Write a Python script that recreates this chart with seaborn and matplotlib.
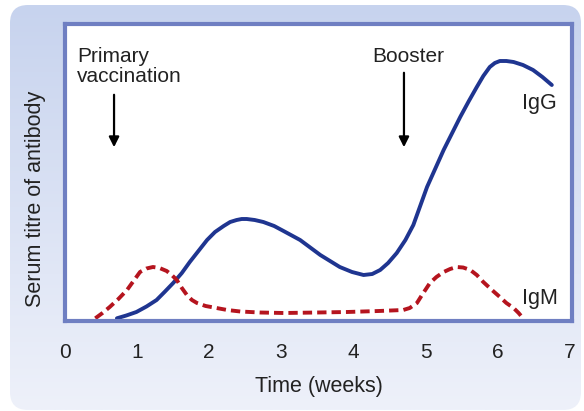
import numpy as np
import pandas as pd
import matplotlib
matplotlib.use("Agg")
import matplotlib.pyplot as plt
import seaborn as sns
from matplotlib.patches import FancyBboxPatch

# values (weeks, titre in arbitrary units)
igg_weeks = [0.72, 0.85, 0.99, 1.13, 1.27, 1.38, 1.50, 1.62, 1.73, 1.85, 1.97, 2.08, 2.20, 2.29, 2.38,
             2.45, 2.52, 2.63, 2.75, 2.90, 3.03, 3.26, 3.54, 3.81, 3.98, 4.14, 4.26, 4.37, 4.48,
             4.60, 4.72, 4.83, 5.02, 5.25, 5.48, 5.60, 5.71, 5.80, 5.89, 5.96, 6.03, 6.12, 6.22,
             6.35, 6.49, 6.62, 6.75]
igg_titre = [2.7, 5.5, 9, 14.5, 21, 29, 38, 48, 59, 70, 81, 89, 95, 99, 101,
             102, 102, 101, 99, 95, 90, 81, 66, 54, 49, 46, 47, 51, 58,
             68, 81, 96, 134, 171, 204, 220, 234, 245, 254, 258, 260, 260, 259,
             256, 251, 244, 236]

igm_weeks = [0.42, 0.52, 0.62, 0.74, 0.86, 0.95, 1.04, 1.13, 1.22, 1.31, 1.41, 1.48, 1.55, 1.62, 1.69,
             1.76, 1.83, 1.95, 2.10, 2.25, 2.43, 2.70, 3.03, 3.50, 3.91, 4.35, 4.69, 4.78, 4.88,
             4.95, 5.06, 5.15, 5.25, 5.34, 5.43, 5.52, 5.62, 5.71, 5.80, 5.92, 6.03, 6.12, 6.22, 6.29, 6.36]
igm_titre = [2.7, 8, 14, 22, 31, 40, 49, 52.5, 54, 53, 50, 46, 41, 33, 26,
             21, 18, 15, 13, 11, 9.5, 8.5, 8, 8.5, 9, 10, 11, 13, 18,
             26, 38, 44, 49, 52, 54, 53.5, 51, 46, 39, 31, 24, 18, 13, 8, 2]

xticks = [0, 1, 2, 3, 4, 5, 6, 7]

igg = pd.DataFrame({"week": igg_weeks, "titre": igg_titre})
igm = pd.DataFrame({"week": igm_weeks, "titre": igm_titre})

sns.set_style("white")
plt.rcParams["font.family"] = ["Liberation Sans", "DejaVu Sans"]

fig = plt.figure(figsize=(5.84, 4.11), dpi=100)

# light blue gradient panel with rounded corners
bg = fig.add_axes([0, 0, 1, 1])
bg.set_xlim(0, 584)
bg.set_ylim(411, 0)
bg.axis("off")
grad = np.linspace(0, 1, 256).reshape(-1, 1)
cmap = matplotlib.colors.LinearSegmentedColormap.from_list("bg", ["#c7d3ee", "#eef1fa"])
im = bg.imshow(grad, cmap=cmap, extent=[10, 581, 410, 5], aspect="auto")
box = FancyBboxPatch((10, 5), 571, 405, boxstyle="round,pad=0,rounding_size=18",
                     transform=bg.transData, facecolor="none", edgecolor="none")
bg.add_patch(box)
im.set_clip_path(box)

ax = fig.add_axes([65 / 584, (411 - 321) / 411, 507 / 584, 297 / 411])
ax.set_facecolor("white")

sns.lineplot(data=igg, x="week", y="titre", ax=ax, color="#1f3590", linewidth=2.8,
             sort=False, estimator=None)
sns.lineplot(data=igm, x="week", y="titre", ax=ax, color="#b5141e", linewidth=2.8,
             sort=False, estimator=None, linestyle=(0, (2.4, 1.3)))

ax.set_xlim(0, 7.03)
ax.set_ylim(0, 297)
ax.set_xticks(xticks)
ax.set_xticklabels([str(t) for t in xticks], fontsize=15, color="#222222")
ax.set_yticks([])
ax.tick_params(axis="x", direction="out", length=6, width=1.5, color="#6f7fc2", pad=10)

for s in ax.spines.values():
    s.set_color("#6f7fc2")
    s.set_linewidth(3)
    s.set_visible(True)

ax.set_xlabel("Time (weeks)", fontsize=15.5, color="#222222", labelpad=10)
ax.set_ylabel("Serum titre of antibody", fontsize=15.5, color="#222222")
ax.yaxis.set_label_coords(-0.037, 0.41)

ax.text(0.17, 274, "Primary\nvaccination", fontsize=15, color="#222222",
        ha="left", va="top", linespacing=1.1)
ax.annotate("", xy=(0.68, 171), xytext=(0.68, 229),
            arrowprops=dict(arrowstyle="-|>", color="black", lw=1.6, mutation_scale=15))
ax.text(4.76, 264, "Booster", fontsize=15, color="#222222", ha="center", va="center")
ax.annotate("", xy=(4.7, 171), xytext=(4.7, 251),
            arrowprops=dict(arrowstyle="-|>", color="black", lw=1.6, mutation_scale=15))

ax.text(6.33, 218, "IgG", fontsize=15.5, color="#222222", ha="left", va="center")
ax.text(6.33, 23, "IgM", fontsize=15.5, color="#222222", ha="left", va="center")

fig.savefig("out.png", dpi=100)
